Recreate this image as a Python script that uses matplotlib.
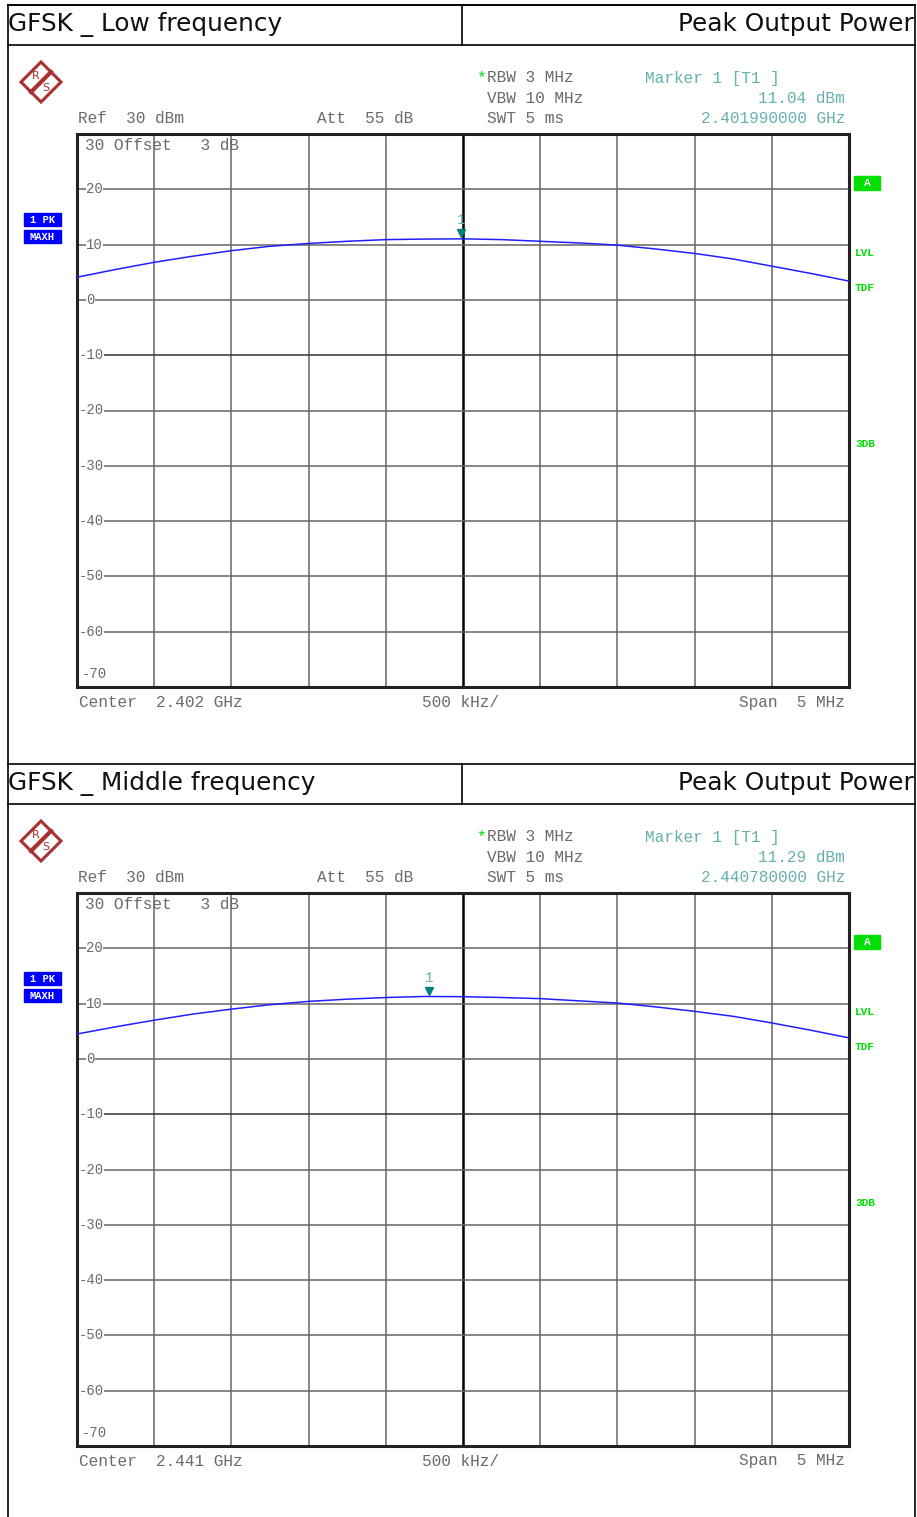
import matplotlib.pyplot as plt
from matplotlib.patches import Polygon, Rectangle
import numpy as np

W, H = 917, 1517

# trace data (offset from center in MHz, level in dBm)
freq_offset = [-2.5, -2.25, -2.0, -1.75, -1.5, -1.25, -1.0, -0.75, -0.5, -0.25, 0.0,
               0.25, 0.5, 0.75, 1.0, 1.25, 1.5, 1.75, 2.0, 2.25, 2.5]
low_level = [4.1, 5.5, 6.8, 7.9, 8.9, 9.7, 10.2, 10.6, 10.9, 11.0, 11.04,
             10.9, 10.6, 10.3, 9.9, 9.2, 8.4, 7.4, 6.1, 4.8, 3.4]
mid_level = [4.5, 5.8, 7.0, 8.1, 9.0, 9.8, 10.4, 10.8, 11.1, 11.29, 11.25,
             11.1, 10.9, 10.5, 10.1, 9.4, 8.6, 7.7, 6.5, 5.2, 3.8]

titles = ["GFSK _ Low frequency", "GFSK _ Middle frequency"]
centers = ["2.402", "2.441"]
marker_offset = [-0.01, -0.22]
marker_level = [11.04, 11.29]
marker_freq = ["2.401990000 GHz", "2.440780000 GHz"]
y_ticks = [20, 10, 0, -10, -20, -30, -40, -50, -60]

MONO = "Liberation Mono"
GRAY = "#6a6a6a"
TEAL = "#66b0b0"
GREEN = "#00e000"
FS = 11.6

fig = plt.figure(figsize=(W / 100, H / 100), dpi=100)
over = fig.add_axes([0, 0, 1, 1])
over.set_xlim(0, W)
over.set_ylim(H, 0)
over.axis("off")

# outer table lines
over.plot([8, 8], [5, H], color="black", lw=1.2)
over.plot([915, 915], [5, H], color="black", lw=1.2)
over.plot([8, 915], [5, 5], color="black", lw=1.2)


def mono(x, y, s, color=GRAY, **kw):
    over.text(x, y, s, color=color, fontsize=FS, family=MONO, va="center", **kw)


def panel(top, title, center, level, m_off, m_lvl, m_freq):
    d = top - 5  # vertical shift of the whole panel in pixels
    # header row
    over.plot([8, 915], [5 + d, 5 + d], color="black", lw=1.2)
    over.plot([8, 915], [45 + d, 45 + d], color="black", lw=1.2)
    over.plot([462, 462], [5 + d, 45 + d], color="black", lw=1.2)
    over.text(8, 24 + d, title, fontsize=17.8, family="DejaVu Sans", va="center", ha="left",
              color="#111111")
    over.text(914, 24 + d, "Peak Output Power", fontsize=17.8, family="DejaVu Sans",
              va="center", ha="right", color="#111111")

    # R&S logo
    cx, cy = 41, 82 + d
    over.add_patch(Polygon([[cx, cy - 20], [cx + 20, cy], [cx, cy + 20], [cx - 20, cy]],
                           closed=True, fill=False, edgecolor="#a83232", lw=2.2))
    over.plot([cx - 10, cx + 10], [cy + 10, cy - 10], color="#a83232", lw=3)
    over.text(cx - 5, cy - 6, "R", color="#a83232", fontsize=8, ha="center", va="center")
    over.text(cx + 5, cy + 6, "S", color="#a83232", fontsize=8, ha="center", va="center")

    # instrument settings
    over.text(476, 78 + d, "*", color=GREEN, fontsize=FS, family=MONO, va="center")
    mono(487, 77 + d, "RBW 3 MHz")
    mono(487, 98 + d, "VBW 10 MHz")
    mono(487, 118 + d, "SWT 5 ms")
    mono(78, 118 + d, "Ref  30 dBm")
    mono(317, 118 + d, "Att  55 dB")
    mono(645, 78 + d, "Marker 1 [T1 ]", color=TEAL)
    mono(845, 98 + d, "%.2f dBm" % m_lvl, color=TEAL, ha="right")
    mono(845, 118 + d, m_freq, color=TEAL, ha="right")
    mono(79, 702 + d, "Center  %s GHz" % center)
    mono(422, 702 + d, "500 kHz/")
    mono(845, 702 + d, "Span  5 MHz", ha="right")

    # side labels
    over.add_patch(Rectangle((24, 213 + d), 37, 13, color="#0000ff"))
    over.add_patch(Rectangle((24, 230 + d), 37, 13, color="#0000ff"))
    over.text(42.5, 219.5 + d, "1 PK", color="white", fontsize=7.5, family=MONO, weight="bold",
              ha="center", va="center")
    over.text(42.5, 236.5 + d, "MAXH", color="white", fontsize=7.5, family=MONO, weight="bold",
              ha="center", va="center")
    over.add_patch(Rectangle((854, 176 + d), 26, 14, color=GREEN))
    over.text(867, 183 + d, "A", color="white", fontsize=8, family=MONO, weight="bold",
              ha="center", va="center")
    for lab, yy in [("LVL", 253), ("TDF", 288), ("3DB", 444)]:
        over.text(855, yy + d, lab, color=GREEN, fontsize=8, family=MONO, weight="bold",
                  va="center")

    # the trace window
    x0, x1, y0, y1 = 77, 849, 134 + d, 687 + d
    ax = fig.add_axes([x0 / W, 1 - y1 / H, (x1 - x0) / W, (y1 - y0) / H])
    ax.set_xlim(-2.5, 2.5)
    ax.set_ylim(-70, 30)
    ax.set_xticks([])
    ax.set_yticks([])
    for s in ax.spines.values():
        s.set_linewidth(2.2)
        s.set_color("#222222")
    for xv in np.arange(-2.0, 2.01, 0.5):
        if abs(xv) < 1e-9:
            ax.axvline(xv, color="black", lw=1.8, zorder=1)
        else:
            ax.axvline(xv, color="#666666", lw=1.1, zorder=1)
    for yv in y_ticks:
        ax.axhline(yv, color="#333333" if yv == -10 else "#666666", lw=1.1, zorder=1)
        # sign sits one column to the left of the digits
        xl = -2.44 if yv >= 0 else -2.49
        ax.text(xl, yv, str(yv), color=GRAY, fontsize=10, family=MONO, va="center",
                ha="left", zorder=2, bbox=dict(facecolor="white", edgecolor="none", pad=0.2))
    ax.text(-2.445, 27.9, "30 Offset   3 dB", color=GRAY, fontsize=FS, family=MONO,
            va="center", ha="left")
    ax.text(-2.47, -67.7, "-70", color=GRAY, fontsize=10, family=MONO, va="center", ha="left")
    ax.plot(freq_offset, level, color="#2020ff", lw=1.1, zorder=3)
    ax.plot([m_off], [m_lvl + 1.0], marker="v", color="#008080", markersize=6, zorder=4)
    ax.text(m_off, m_lvl + 3.4, "1", color=TEAL, fontsize=10, family=MONO, ha="center",
            va="center", zorder=4)


panel(5, titles[0], centers[0], low_level, marker_offset[0], marker_level[0], marker_freq[0])
panel(764, titles[1], centers[1], mid_level, marker_offset[1], marker_level[1], marker_freq[1])

fig.savefig("out.png", dpi=100)
